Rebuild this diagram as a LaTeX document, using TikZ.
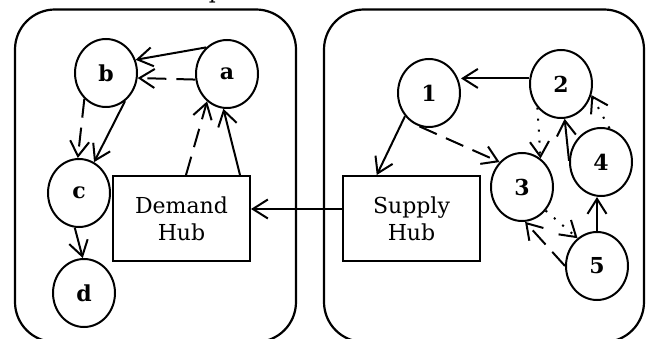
\documentclass[tikz,border=0pt]{standalone}
\usepackage{fontspec}
\setmainfont{DejaVu Serif}
\usetikzlibrary{arrows.meta,shapes.geometric,calc}
\begin{document}
\begin{tikzpicture}[x=1pt,y=-1pt,
  every node/.style={font=\fontsize{22}{27}\selectfont},
  circ/.style={ellipse,draw,line width=2pt,minimum width=62pt,minimum height=68pt,inner sep=0pt,font=\fontsize{22}{27}\selectfont\bfseries},
  hub/.style={rectangle,draw,line width=2pt,minimum width=137pt,minimum height=85pt,align=center,inner sep=0pt},
  panel/.style={draw,line width=2.2pt,rounded corners=40pt},
  edge/.style={line width=2pt,-{Straight Barb[length=15pt,width=19pt]}},
  dashedge/.style={edge,dash pattern=on 19pt off 10pt},
  dotedge/.style={edge,dash pattern=on 2pt off 9pt}
]
\useasboundingbox (0,0) rectangle (651,339);
\clip (0,0) rectangle (651,339);

% panels
\draw[panel] (15,9.5) rectangle (296,342);
\draw[panel] (324,9.5) rectangle (644,342);
\node[anchor=base,inner sep=0pt] (plab) at (216,-1) {p};

% left group
\node[circ] (a) at (227,74) {a};
\node[circ] (b) at (106,73) {b};
\node[circ] (c) at (79,193) {c};
\node[circ] (d) at (84,293) {d};
\node[hub] (dh) at (181.5,218.5) {Demand\\Hub};

% right group
\node[circ] (n1) at (429,93) {1};
\node[circ] (n2) at (561,84) {2};
\node[circ] (n3) at (522,187) {3};
\node[circ] (n4) at (601,162) {4};
\node[circ] (n5) at (597,266) {5};
\node[hub] (sh) at (411.5,218.5) {Supply\\Hub};

% left edges
\draw[edge] (a.128) -- (b.24);
\draw[dashedge] (a.190) -- (b.-9);
\draw[dashedge] (b.230) -- (c.92);
\draw[edge] (b.304) -- (c.64);
\draw[edge] (c.263) -- (d.92);
\draw[dashedge] ($(dh.north)+(4.5,0)$) -- (a.234);
\draw[edge] ($(dh.north east)+(-11,0)$) -- (a.264);

% hub link
\coordinate (hy) at (0,209);
\draw[edge] (sh.west |- hy) -- (dh.east |- hy);

% right edges
\draw[edge] (n2.170) -- (n2.170 -| n1.east);
\draw[edge] (n1.224) -- ($(sh.north west)!0.25!(sh.north east)$);
\draw[dashedge] (n1.254) -- (n3.132);
\draw[dotedge] (n2.225) -- (n3.57);
\draw[edge] (n4.178) -- (n2.276);
\draw[dotedge] (n4.76) -- (n2.-20);
\draw[edge] (n5.north) -- (n5.north |- n4.south);
\draw[dotedge] (n3.315) -- (n5.125);
\draw[dashedge] (n5.180) -- (n3.275);
\end{tikzpicture}
\end{document}
